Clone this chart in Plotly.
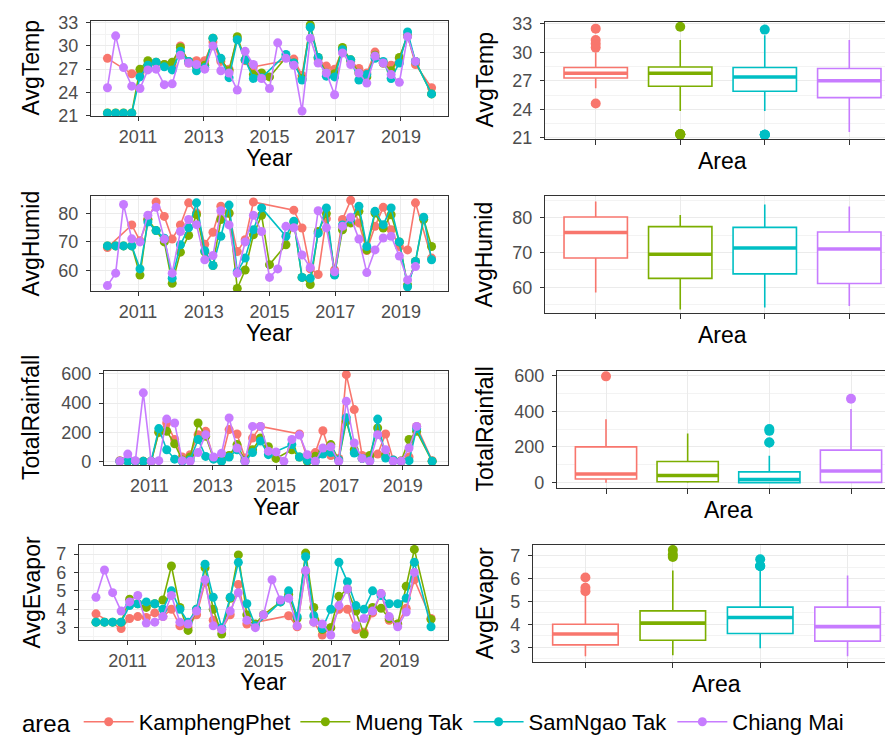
import numpy as np
import plotly.graph_objects as go

N = None
years = [2010.07, 2010.32, 2010.56, 2010.81, 2011.06, 2011.30, 2011.55, 2011.80, 2012.04, 2012.29,
         2012.54, 2012.78, 2013.03, 2013.28, 2013.52, 2013.77, 2014.02, 2014.26, 2014.51, 2014.76,
         2015.00, 2015.25, 2015.50, 2015.74, 2015.99, 2016.24, 2016.48, 2016.73, 2016.98, 2017.22,
         2017.47, 2017.72, 2017.96, 2018.21, 2018.46, 2018.70, 2018.95, 2019.20, 2019.44, 2019.69,
         2019.93]
areas = ["KamphengPhet", "Mueng Tak", "SamNgao Tak", "Chiang Mai"]
colors = ["#F8766D", "#7CAE00", "#00BFC4", "#C77CFF"]

temp_kp = [28.4, N, N, 26.4, 26.5, 27.5, 27.8, 27.6, 27.4, 30.0, 27.8, 28.1, 28.1, 30.5, 28.0, 27.0, 30.9, 28.1, 27.3, N,
           N, N, N, 28.3, 26.2, 32.5, 28.3, 27.4, 27.0, 29.5, 28.0, 27.1, 26.5, 29.2, 27.8, 27.5, 28.4, 31.3, 27.6, N, 24.6]
temp_mt = [21.35, 21.35, 21.35, 21.35, 27.0, 28.1, 27.9, 27.6, 27.9, 29.8, 28.0, 27.3, 27.5, 31.0, 28.3, 26.8, 31.2, 28.2, 26.3, 26.5,
           26.0, N, 28.5, 27.8, 25.8, 32.7, 28.5, 26.5, 26.4, 29.8, 28.2, 26.5, 26.0, 28.8, 27.8, 26.8, 28.5, 31.3, 28.0, N, 23.8]
temp_st = [21.3, 21.3, 21.3, 21.3, 26.0, 27.5, 27.9, 27.3, 26.9, 29.3, 28.0, 26.8, 27.2, 31.0, 28.4, 25.9, 30.8, 28.2, 25.8, 25.9,
           N, N, 28.9, 27.8, 25.6, 32.4, 28.5, 26.1, 26.0, 29.5, 28.2, 25.6, 26.3, 28.4, 28.0, 25.8, 27.8, 31.8, 28.0, N, 23.8]
temp_cm = [24.6, 31.3, 27.2, 24.8, 24.5, 26.9, 27.0, 25.0, 25.1, 28.8, 27.8, 27.6, 27.0, 30.0, 26.8, 26.5, 24.3, 29.3, 27.6, 25.8,
           24.5, 30.4, 28.4, 27.5, 21.6, 31.0, 27.8, 26.5, 23.7, 29.1, 27.6, 26.5, 25.2, 28.7, 27.8, 26.3, 25.3, 31.2, 28.0, N, N]

humid_kp = [68.0, N, N, 76.0, 70.4, 78.0, 84.1, 79.0, 71.0, 76.0, 83.8, 80.2, 69.2, 73.4, 82.6, 80.0, 66.6, 70.8, 84.1, N,
            N, N, N, 81.2, 74.9, 60.5, 58.5, 78.2, 60.1, 77.9, 84.7, 76.7, 67.0, 75.5, 82.2, 74.3, 68.4, 67.2, 83.8, N, 64.3]
humid_mt = [68.6, 68.6, 68.6, 68.6, 58.3, 77.9, 74.0, 70.0, 55.4, 66.4, 72.3, 79.6, 66.5, 61.7, 77.9, 80.2, 53.6, 60.1, 72.5, 79.4,
            62.0, N, 69.0, 77.0, 57.5, 55.0, 73.7, 80.0, 58.5, 74.3, 76.7, 80.8, 67.2, 80.2, 74.9, 79.6, 70.0, 54.8, 63.1, 78.0, 68.4]
humid_st = [68.6, 68.6, 68.6, 68.6, 60.5, 77.0, 74.0, 71.3, 57.2, 69.0, 75.0, 83.8, 66.9, 61.7, 72.0, 83.0, 59.5, 64.3, 74.3, 82.0,
            N, N, 72.0, 77.3, 57.5, 57.2, 73.0, 82.0, 58.3, 76.0, 78.0, 82.6, 68.4, 80.8, 76.1, 82.0, 70.0, 54.2, 63.1, 78.7, 63.7]
humid_cm = [54.6, 59.0, 83.2, 71.1, 70.0, 79.4, 82.2, 71.0, 59.0, 73.7, 77.9, 76.1, 63.7, 65.2, 81.0, 76.0, 59.0, 70.0, 79.4, 73.7,
            57.5, 60.5, 75.5, 75.0, 65.4, 61.0, 81.0, 75.0, 59.5, 75.5, 78.7, 71.0, 59.2, 67.2, 71.4, 72.0, 65.0, 56.6, 61.3, N, N]

rain_kp = [5, N, N, 0, 0, 200, 263, 150, 30, 46, 183, 206, 20, 10, 218, 188, 23, 160, 240, N,
           N, N, N, 188, 20, 60, 210, 40, 20, 595, 355, 40, 15, 50, 188, 10, 5, 30, 240, N, 5]
rain_mt = [0, 0, 0, 0, 0, 200, 206, 120, 10, 30, 263, 172, 20, 5, 40, 115, 5, 80, 160, 100,
           20, N, 80, 30, 0, 35, 69, 115, 10, 275, 80, 20, 40, 229, 46, 5, 0, 150, 206, N, 0]
rain_st = [0, 0, 0, 0, 2, 225, 80, 15, 0, 10, 150, 34, 15, 0, 30, 80, 0, 60, 140, 46,
           N, N, 115, 30, 5, 0, 50, 60, 10, 300, 57, 20, 5, 290, 23, 10, 0, 5, 225, N, 0]
rain_cm = [0, 50, 5, 470, 0, 5, 290, 263, 5, 0, 60, 183, 30, 55, 298, 92, 0, 240, 240, 70,
           65, 0, 150, 180, 46, 0, 92, 100, 0, 412, 126, 20, 0, 183, 80, 0, 0, 92, 240, N, N]

evap_kp = [3.75, N, N, 2.95, 3.5, 3.6, 3.55, 3.8, 3.6, 4.0, 3.1, 3.0, 3.7, 5.45, 3.4, 2.9, 3.7, 5.35, 3.2, N,
           N, N, N, 3.65, 3.05, 6.05, 3.3, 2.6, 3.0, 4.0, 4.0, 2.9, 2.75, 3.8, 4.85, 3.4, 3.2, 4.05, 5.6, N, 3.5]
evap_mt = [3.3, 3.3, 3.3, 3.3, 4.55, 4.3, 4.1, 4.3, 4.5, 6.35, 4.1, 2.85, 4.0, 6.25, 4.0, 2.65, 4.6, 6.95, 3.7, 3.2,
           3.7, N, 4.4, 4.8, 3.5, 7.05, 4.1, 2.9, 3.0, 4.7, 5.1, 3.9, 2.65, 4.1, 4.05, 3.5, 3.2, 5.25, 7.25, N, 3.45]
evap_st = [3.3, 3.3, 3.3, 3.3, 4.2, 4.3, 4.4, 4.3, 4.0, 5.0, 4.0, 3.3, 4.0, 6.45, 4.65, 3.0, 4.65, 6.55, 4.3, 3.1,
           N, N, 4.4, 5.0, 3.6, 6.85, 3.65, 2.95, 4.0, 6.55, 5.5, 4.2, 4.0, 5.0, 4.75, 4.3, 4.3, 4.6, 6.55, N, 3.05]
evap_cm = [4.65, 6.13, 4.9, 3.9, 4.4, 4.75, 3.25, 3.3, 3.6, 4.75, 3.3, 3.2, 3.9, 5.6, 3.1, 2.9, 3.9, 4.9, 3.4, 3.0,
           3.7, 5.6, 4.5, 4.6, 3.1, 6.1, 3.3, 3.2, 2.6, 4.2, 5.1, 3.1, 3.5, 3.9, 4.85, 3.6, 3.05, 3.85, 6.0, N, N]

variables = [
    ("AvgTemp", [temp_kp, temp_mt, temp_st, temp_cm]),
    ("AvgHumid", [humid_kp, humid_mt, humid_st, humid_cm]),
    ("TotalRainfall", [rain_kp, rain_mt, rain_st, rain_cm]),
    ("AvgEvapor", [evap_kp, evap_mt, evap_st, evap_cm]),
]

# ---- layout geometry (pixels) ----
W, H = 893, 745
left_box = [(83, 440, 13, 108), (83, 440, 188, 283), (96, 440, 363, 457), (71, 440, 537, 632)]
right_box = [(537, 892, 14, 131), (537, 892, 188, 305), (549, 892, 363, 480), (525, 892, 537, 654)]
yticks = [(21, 3, 1.5), (60, 10, 5), (0, 200, 100), (3, 1, 0.5)]
left_ranges = [[20.95, 33.22], [52.7, 86.2], [-25, 620], [2.33, 7.49]]
right_ranges = [[20.86, 33.2], [52.6, 86.25], [-30, 625], [2.35, 7.47]]

FONT = "Liberation Sans, Arial, sans-serif"
common = dict(showline=True, mirror=True, linecolor="#333333", linewidth=1.2,
              ticks="outside", ticklen=4, tickcolor="#333333", tickwidth=1.2,
              showgrid=True, gridcolor="#EBEBEB", gridwidth=1.4, zeroline=False,
              automargin=False,
              tickfont=dict(size=18, color="#4D4D4D", family=FONT))
minor_grid = dict(showgrid=True, gridcolor="#F3F3F3", gridwidth=0.8)

fig = go.Figure()
layout = {}
annotations = []

def dom_x(a, b):
    return [a / W, b / W]

def dom_y(t, b):
    return [1 - b / H, 1 - t / H]

for r, (vname, series) in enumerate(variables):
    li = 2 * r + 1
    ri = 2 * r + 2
    lx, ly = f"x{li}", f"y{li}"
    rx, ry = f"x{ri}", f"y{ri}"
    t0, dt, mdt = yticks[r]

    # left: time series
    for a, vals, col in zip(areas, series, colors):
        xs = [yr for yr, v in zip(years, vals) if v is not None]
        ys = [v for v in vals if v is not None]
        fig.add_trace(go.Scatter(x=xs, y=ys, mode="lines+markers", name=a,
                                 line=dict(color=col, width=1.6),
                                 marker=dict(color=col, size=9),
                                 legendgroup=a, showlegend=(r == 0),
                                 xaxis=lx, yaxis=ly))
    # right: boxplots
    for i, (a, vals, col) in enumerate(zip(areas, series, colors)):
        ys = [v for v in vals if v is not None]
        fig.add_trace(go.Box(y=ys, x0=i, width=0.75, name=a, boxpoints="outliers",
                             line=dict(color=col, width=1.6), fillcolor="white",
                             marker=dict(color=col, size=10, line=dict(width=0)),
                             whiskerwidth=0, pointpos=0, jitter=0,
                             legendgroup=a, showlegend=False,
                             xaxis=rx, yaxis=ry, hoverinfo="y"))
        med = float(np.median(ys))
        fig.add_trace(go.Scatter(x=[i - 0.375, i + 0.375], y=[med, med], mode="lines",
                                 line=dict(color=col, width=3.6), showlegend=False,
                                 hoverinfo="skip", xaxis=rx, yaxis=ry))

    L = left_box[r]
    R = right_box[r]
    kx = "xaxis" if li == 1 else f"xaxis{li}"
    ky = "yaxis" if li == 1 else f"yaxis{li}"
    layout[kx] = dict(common, domain=dom_x(L[0], L[1]), anchor=ly, range=[2009.57, 2020.43],
                      tick0=2011, dtick=2, minor=dict(minor_grid, tick0=2010, dtick=1))
    layout[ky] = dict(common, domain=dom_y(L[2], L[3]), anchor=lx, range=left_ranges[r],
                      tick0=t0, dtick=dt, minor=dict(minor_grid, tick0=t0, dtick=mdt),
                      ticklabelstandoff=4)
    layout[f"xaxis{ri}"] = dict(common, domain=dom_x(R[0], R[1]), anchor=ry, range=[-0.6, 3.6],
                                type="linear", tickvals=[0, 1, 2, 3], showticklabels=False, ticklen=5)
    layout[f"yaxis{ri}"] = dict(common, domain=dom_y(R[2], R[3]), anchor=rx, range=right_ranges[r],
                                tick0=t0, dtick=dt, minor=dict(minor_grid, tick0=t0, dtick=mdt),
                                ticklabelstandoff=4)

    tf = dict(size=23, color="black", family=FONT)
    annotations.append(dict(text="Year", x=(L[0] + L[1]) / 2 / W, y=1 - (L[3] + 42) / H,
                            xref="paper", yref="paper", showarrow=False, font=tf,
                            xanchor="center", yanchor="middle"))
    annotations.append(dict(text="Area", x=(R[0] + R[1]) / 2 / W, y=1 - (R[3] + 22) / H,
                            xref="paper", yref="paper", showarrow=False, font=tf,
                            xanchor="center", yanchor="middle"))
    annotations.append(dict(text=vname, x=23 / W, y=1 - (L[2] + L[3]) / 2 / H, textangle=-90,
                            xref="paper", yref="paper", showarrow=False, font=tf,
                            xanchor="center", yanchor="middle"))
    annotations.append(dict(text=vname, x=476 / W, y=1 - (R[2] + R[3]) / 2 / H, textangle=-90,
                            xref="paper", yref="paper", showarrow=False, font=tf,
                            xanchor="center", yanchor="middle"))

fig.update_layout(
    width=W, height=H,
    margin=dict(l=0, r=0, t=0, b=0, autoexpand=False),
    paper_bgcolor="white", plot_bgcolor="white",
    font=dict(family=FONT),
    showlegend=True,
    legend=dict(orientation="h", x=12 / W, xanchor="left", y=1 - 714 / H, yanchor="middle",
                title=dict(text="area", font=dict(size=24, color="black", family=FONT)),
                font=dict(size=22, color="black", family=FONT), itemwidth=50),
    annotations=annotations,
    **layout,
)

fig.write_html("out.html")
